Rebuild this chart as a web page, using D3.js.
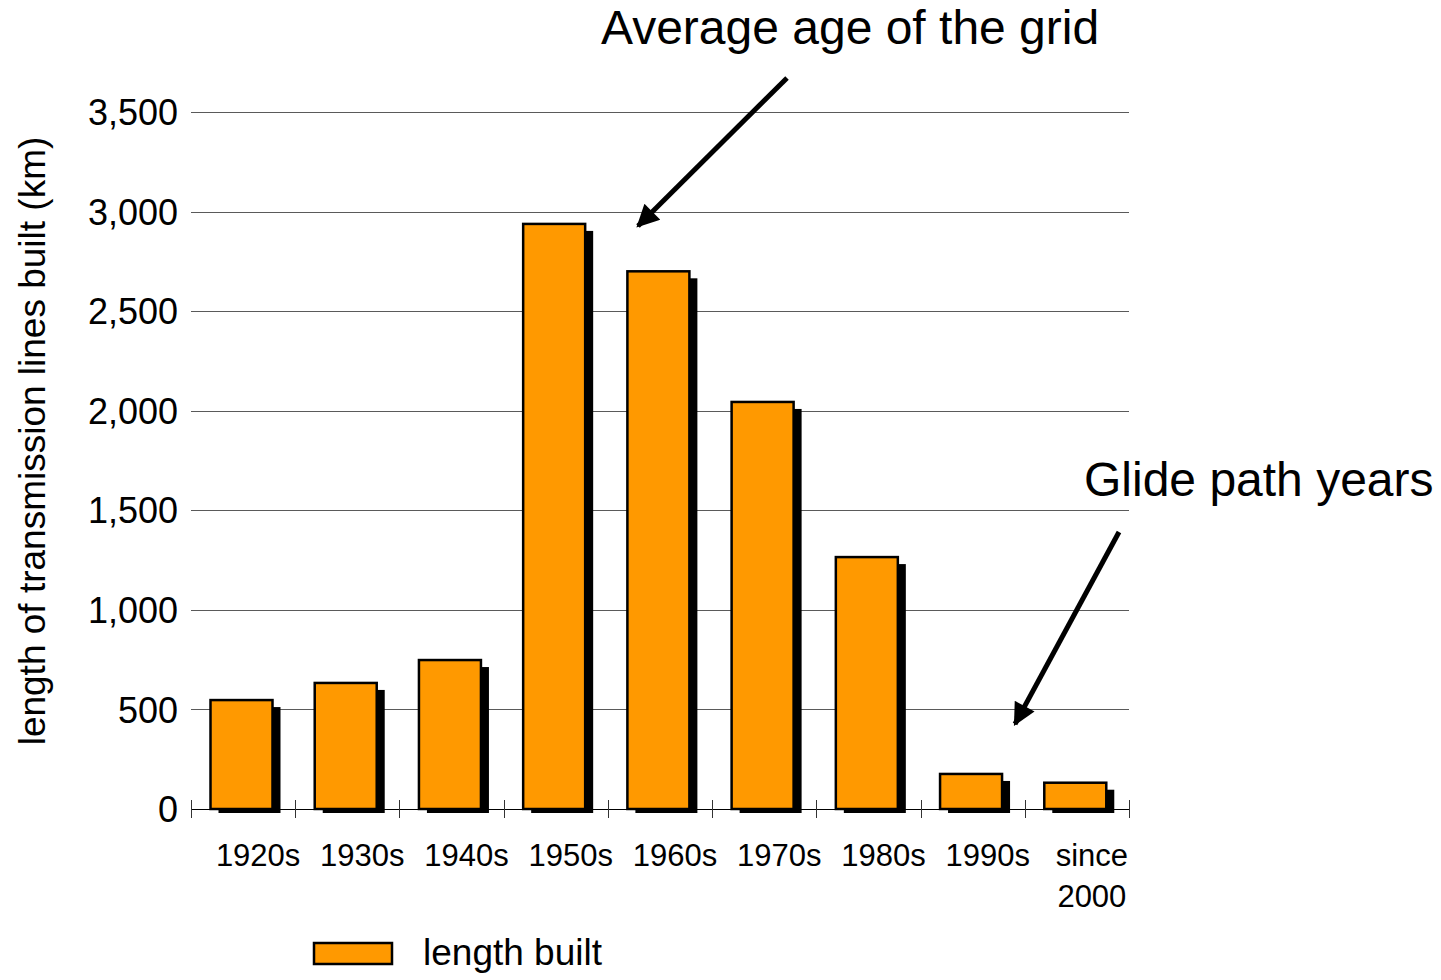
<!DOCTYPE html>
<html>
<head>
<meta charset="utf-8">
<script src="https://cdn.jsdelivr.net/npm/d3@7"></script>
<style>
  body { margin: 0; background: #fff; }
  text { font-family: "Liberation Sans", Arial, sans-serif; fill: #000; }
</style>
</head>
<body>
<script>
// data
var categories = ['1920s', '1930s', '1940s', '1950s', '1960s', '1970s', '1980s', '1990s', 'since 2000'];
var lengthBuilt = [547, 633, 748, 2938, 2700, 2044, 1265, 176, 132];
var yTicks = [0, 500, 1000, 1500, 2000, 2500, 3000, 3500];
var seriesName = 'length built';

var width = 1441;
var height = 980;
var plot = {left: 191, right: 1129, top: 112, bottom: 809};

var svg = d3.select('body')
    .append('svg')
        .attr('width', width)
        .attr('height', height);

var xScale = d3.scaleBand()
    .domain(categories)
    .range([plot.left, plot.right])
    .padding(0);

var yScale = d3.scaleLinear()
    .domain([0, 3500])
    .range([plot.bottom, plot.top]);

var barOffset = 19.5;
var barWidth = 62;

// gridlines
svg.append('g')
    .selectAll('line')
    .data(yTicks.filter(d => d > 0))
    .enter().append('line')
        .attr('x1', plot.left)
        .attr('x2', plot.right)
        .attr('y1', d => Math.round(yScale(d)) + 0.5)
        .attr('y2', d => Math.round(yScale(d)) + 0.5)
        .attr('stroke', '#5a5a5a')
        .attr('stroke-width', 1);

// y tick labels
var yAxis = d3.axisLeft(yScale)
    .tickValues(yTicks)
    .tickSize(0)
    .tickPadding(13)
    .tickFormat(d3.format(','));

var yg = svg.append('g')
    .attr('transform', 'translate(' + plot.left + ',0)')
    .call(yAxis);
yg.select('.domain').remove();
yg.selectAll('text')
    .attr('font-size', 36)
    .attr('font-family', '"Liberation Sans", Arial, sans-serif')
    .attr('dy', '0.35em');

// shadows
svg.append('g')
    .selectAll('rect')
    .data(lengthBuilt)
    .enter().append('rect')
        .attr('x', (d, i) => xScale(categories[i]) + barOffset + 8)
        .attr('y', d => yScale(d) + 7)
        .attr('width', barWidth)
        .attr('height', d => Math.max(0, yScale(0) - yScale(d) - 3))
        .attr('fill', '#000');

// bars
svg.append('g')
    .selectAll('rect')
    .data(lengthBuilt)
    .enter().append('rect')
        .attr('x', (d, i) => xScale(categories[i]) + barOffset)
        .attr('y', d => yScale(d))
        .attr('width', barWidth)
        .attr('height', d => yScale(0) - yScale(d))
        .attr('fill', '#ff9900')
        .attr('stroke', '#000')
        .attr('stroke-width', 2.5);

// x axis line + ticks at band edges
svg.append('line')
    .attr('x1', plot.left)
    .attr('x2', plot.right)
    .attr('y1', plot.bottom + 0.5)
    .attr('y2', plot.bottom + 0.5)
    .attr('stroke', '#000')
    .attr('stroke-width', 1.2);

var edges = categories.map(c => xScale(c)).concat([plot.right]);
svg.append('g')
    .selectAll('line')
    .data(edges)
    .enter().append('line')
        .attr('x1', d => Math.round(d) + 0.5)
        .attr('x2', d => Math.round(d) + 0.5)
        .attr('y1', plot.bottom - 9)
        .attr('y2', plot.bottom + 9)
        .attr('stroke', '#333')
        .attr('stroke-width', 1);

// x labels (two lines for "since 2000")
var xl = svg.append('g')
    .selectAll('text')
    .data(categories)
    .enter().append('text')
        .attr('text-anchor', 'middle')
        .attr('font-size', 31)
        .attr('x', d => xScale(d) + xScale.bandwidth() / 2 + 15)
        .attr('y', 866);
xl.each(function(d) {
    var words = d === 'since 2000' ? ['since', '2000'] : [d];
    var t = d3.select(this);
    words.forEach((w, i) => {
        t.append('tspan')
            .attr('x', t.attr('x'))
            .attr('dy', i === 0 ? 0 : 41)
            .text(w);
    });
});

// y axis title
svg.append('text')
    .attr('transform', 'translate(45,441) rotate(-90)')
    .attr('text-anchor', 'middle')
    .attr('font-size', 37)
    .text('length of transmission lines built (km)');

// legend
svg.append('rect')
    .attr('x', 314)
    .attr('y', 943)
    .attr('width', 78)
    .attr('height', 21)
    .attr('fill', '#ff9900')
    .attr('stroke', '#000')
    .attr('stroke-width', 2.5);
svg.append('text')
    .attr('x', 423)
    .attr('y', 965)
    .attr('font-size', 37)
    .text(seriesName);

// annotations
var defs = svg.append('defs');
defs.append('marker')
    .attr('id', 'head')
    .attr('viewBox', '0 0 10 10')
    .attr('refX', 9)
    .attr('refY', 5)
    .attr('markerWidth', 5.5)
    .attr('markerHeight', 4.5)
    .attr('markerUnits', 'strokeWidth')
    .attr('orient', 'auto')
    .append('path')
        .attr('d', 'M0,0 L10,5 L0,10 z')
        .attr('fill', '#000');

svg.append('text')
    .attr('x', 601)
    .attr('y', 44)
    .attr('font-size', 48)
    .text('Average age of the grid');

svg.append('line')
    .attr('x1', 787).attr('y1', 78)
    .attr('x2', 638).attr('y2', 226)
    .attr('stroke', '#000')
    .attr('stroke-width', 5)
    .attr('marker-end', 'url(#head)');

svg.append('text')
    .attr('x', 1084)
    .attr('y', 496)
    .attr('font-size', 48)
    .text('Glide path years');

svg.append('line')
    .attr('x1', 1119).attr('y1', 532)
    .attr('x2', 1015).attr('y2', 724)
    .attr('stroke', '#000')
    .attr('stroke-width', 5)
    .attr('marker-end', 'url(#head)');
</script>
</body>
</html>
